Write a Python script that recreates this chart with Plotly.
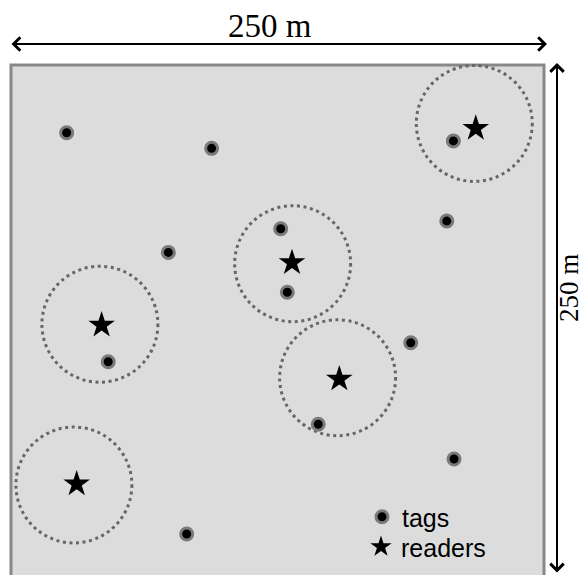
import plotly.graph_objects as go

# ---- data (metres, field 250 x 250 m) ----
tag_x = [26.1, 94.1, 73.8, 126.5, 129.6, 204.4, 207.5, 45.6, 187.5, 144.1, 207.8, 82.4]
tag_y = [218.2, 210.9, 162.1, 173.2, 143.4, 176.8, 214.4, 110.8, 119.7, 81.5, 65.2, 30.0]

reader_x = [218.0, 131.8, 42.5, 154.0, 30.8]
reader_y = [220.3, 157.3, 128.0, 102.7, 53.5]

range_cx = [217.3, 132.1, 41.7, 153.2, 29.5]
range_cy = [222.6, 156.8, 128.4, 103.3, 53.0]
range_r = 27.2

field_size = 250
dim_label = "250 m"

# ---- layout geometry (pixels) ----
W, H = 585, 575
SCALE = 533 / field_size          # px per metre
PL, PR, PT, PB = 5, 550, 59, 575  # plot area in page pixels
FIELD_LEFT, FIELD_TOP = 11, 65


def mx(px):
    return (px - FIELD_LEFT) / SCALE


def my(py):
    return field_size - (py - FIELD_TOP) / SCALE


def paper_x(px):
    return (px - PL) / (PR - PL)


def paper_y(py):
    return (PB - py) / (PB - PT)


fig = go.Figure()

fig.add_trace(go.Scatter(
    x=tag_x, y=tag_y, mode="markers", name="tags", legend="legend",
    marker=dict(symbol="circle", size=12, color="black",
                line=dict(color="#7a7a7a", width=3)),
))
fig.add_trace(go.Scatter(
    x=reader_x, y=reader_y, mode="markers", name="readers", legend="legend2",
    marker=dict(symbol="star", size=20, color="black",
                line=dict(color="black", width=0)),
))

shapes = [dict(type="rect", xref="x", yref="y", x0=0, x1=field_size, y0=0, y1=field_size,
               fillcolor="#dcdcdc", line=dict(color="#888888", width=3), layer="below")]
for cx, cy in zip(range_cx, range_cy):
    shapes.append(dict(type="circle", xref="x", yref="y",
                       x0=cx - range_r, x1=cx + range_r, y0=cy - range_r, y1=cy + range_r,
                       line=dict(color="#666666", width=3, dash="3px,3.6px"), layer="below"))

arrow_style = dict(text="", showarrow=True, arrowhead=4, startarrowhead=4,
                   arrowside="end+start", arrowsize=1.3, startarrowsize=1.3,
                   arrowwidth=2, arrowcolor="black", standoff=0, startstandoff=0)

annotations = [
    dict(xref="paper", yref="paper", x=paper_x(547), y=paper_y(44),
         ax=10 - 547, ay=0, **arrow_style),
    dict(xref="paper", yref="paper", x=paper_x(270), y=paper_y(26), text=dim_label,
         showarrow=False, xanchor="center", yanchor="middle",
         font=dict(family="Liberation Serif", size=33, color="black")),
    dict(xref="paper", yref="paper", x=paper_x(557), y=paper_y(63),
         ax=0, ay=574 - 63, **arrow_style),
    dict(xref="paper", yref="paper", x=paper_x(569), y=paper_y(288), text=dim_label,
         textangle=-90, showarrow=False, xanchor="center", yanchor="middle",
         borderpad=0, font=dict(family="Liberation Serif", size=27, color="black")),
]

legend_common = dict(xanchor="left", yanchor="middle", bgcolor="rgba(0,0,0,0)",
                     borderwidth=0, itemsizing="trace",
                     font=dict(family="Liberation Sans", size=25, color="black"))

fig.update_layout(
    width=W, height=H,
    margin=dict(l=PL, r=W - PR, t=PT, b=H - PB, pad=0),
    paper_bgcolor="white", plot_bgcolor="white",
    xaxis=dict(range=[mx(PL), mx(PR)], visible=False, fixedrange=True),
    yaxis=dict(range=[my(PB), my(PT)], visible=False, fixedrange=True),
    shapes=shapes, annotations=annotations,
    showlegend=True,
    legend=dict(x=paper_x(362), y=paper_y(517), **legend_common),
    legend2=dict(x=paper_x(361), y=paper_y(547), **legend_common),
)

fig.write_html("out.html",
               config={"displayModeBar": False},
               post_script="document.body.style.margin='0';document.body.style.overflow='hidden';")
